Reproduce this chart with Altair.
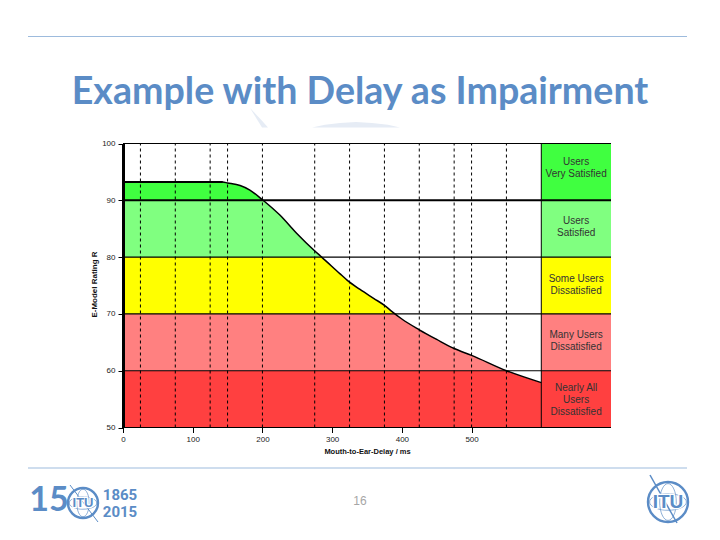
import altair as alt
import pandas as pd

# ---- data ----
curve_ms = [0, 143, 150, 168, 182, 200, 225, 249, 274, 285, 311, 321, 340, 360, 375, 385, 400, 425, 450, 475, 500, 550, 600]
curve_r = [93.2, 93.2, 93.05, 92.6, 91.8, 90.1, 87.4, 84.2, 81.2, 80, 77.1, 76.0, 74.3, 72.7, 71.5, 70.5, 69.1, 67.2, 65.5, 63.9, 62.7, 60, 57.9]
band_low = [90, 80, 70, 60, 50]
band_high = [100, 90, 80, 70, 60]
band_color = ["#40FF40", "#80FF80", "#FFFF00", "#FF8080", "#FF4040"]
dashed_ms = [25, 75, 125, 150, 200, 275, 325, 375, 425, 475, 500, 550]
grid_r = [100, 80, 70, 60, 50]
strong_r = [90]
x_ticks = [0, 100, 200, 300, 400, 500]
y_ticks = [50, 60, 70, 80, 90, 100]
panel_lines = ["Users", "Very Satisfied", "Users", "Satisfied", "Some Users", "Dissatisfied",
               "Many Users", "Dissatisfied", "Nearly All", "Users", "Dissatisfied"]
panel_r = [96.7, 94.6, 86.3, 84.2, 76.1, 74.0, 66.2, 64.1, 56.9, 54.8, 52.7]

BLUE = "#5B8CC6"
WATER = "#E6ECF5"
FONT = "Liberation Sans"

X = alt.Scale(domain=[0, 700], range=[115, 603], nice=False, zero=False)
Y = alt.Scale(domain=[50, 100], range=[419.5, 135.5], nice=False, zero=False)

curve = pd.DataFrame({"ms": curve_ms, "r": curve_r, "top": [100] * len(curve_ms)})
flat = curve[curve.ms <= 143]
bands = pd.DataFrame({"x0": [0] * 5, "x1": [700] * 5, "lo": band_low, "hi": band_high, "c": band_color})

xe = alt.X("x0:Q", scale=X,
           axis=alt.Axis(values=x_ticks, offset=-104.5, domain=False, grid=False, tickColor="#000", tickSize=5,
                         labelFont=FONT, labelFontSize=8, labelColor="#222", labelPadding=3, format="d",
                         labelFlush=False, labelOverlap=False, zindex=1,
                         title="Mouth-to-Ear-Delay / ms", titleFont=FONT, titleFontSize=7.5, titleFontWeight="bold",
                         titleColor="#111", titleX=359, titleY=20))
ye = alt.Y("lo:Q", scale=Y,
           axis=alt.Axis(values=y_ticks, offset=-115, domain=True, domainColor="#000", domainWidth=3, grid=False,
                         tickColor="#000", tickSize=5, labelFont=FONT, labelFontSize=8, labelColor="#222", labelPadding=3,
                         labelFlush=False, labelOverlap=False, zindex=1,
                         title="E-Model Rating R", titleFont=FONT, titleFontSize=8, titleFontWeight="bold",
                         titleColor="#111", titleX=-25, titleY=276))

layer_bands = alt.Chart(bands).mark_rect().encode(
    x=xe, x2="x1:Q", y=ye, y2="hi:Q", color=alt.Color("c:N", scale=None))
layer_white = alt.Chart(curve).mark_area(color="white", opacity=1, interpolate="monotone").encode(
    x=alt.X("ms:Q", scale=X), y=alt.Y("r:Q", scale=Y), y2="top:Q")
layer_dash = alt.Chart(pd.DataFrame({"ms": dashed_ms, "a": [50] * 12, "b": [100] * 12})).mark_rule(
    color="#000", strokeWidth=1, strokeDash=[3, 3]).encode(
    x=alt.X("ms:Q", scale=X), y=alt.Y("a:Q", scale=Y), y2="b:Q")
layer_grid = alt.Chart(pd.DataFrame({"r": grid_r, "a": [0] * 5, "b": [700] * 5})).mark_rule(
    color="#000", strokeWidth=1.1).encode(
    x=alt.X("a:Q", scale=X), x2="b:Q", y=alt.Y("r:Q", scale=Y))
layer_strong = alt.Chart(pd.DataFrame({"r": strong_r, "a": [0], "b": [700]})).mark_rule(
    color="#000", strokeWidth=2).encode(
    x=alt.X("a:Q", scale=X), x2="b:Q", y=alt.Y("r:Q", scale=Y))
layer_divider = alt.Chart(pd.DataFrame({"ms": [600], "a": [50], "b": [100]})).mark_rule(
    color="#000", strokeWidth=1).encode(
    x=alt.X("ms:Q", scale=X), y=alt.Y("a:Q", scale=Y), y2="b:Q")
layer_curve = alt.Chart(curve).mark_line(color="#000", strokeWidth=1.5, interpolate="monotone").encode(
    x=alt.X("ms:Q", scale=X), y=alt.Y("r:Q", scale=Y))
layer_flat = alt.Chart(flat).mark_line(color="#000", strokeWidth=2).encode(
    x=alt.X("ms:Q", scale=X), y=alt.Y("r:Q", scale=Y))
layer_panel = alt.Chart(pd.DataFrame({"t": panel_lines, "r": panel_r, "x": [650] * len(panel_r)})).mark_text(
    font=FONT, fontSize=10, color="#333", align="center", baseline="middle").encode(
    x=alt.X("x:Q", scale=X), y=alt.Y("r:Q", scale=Y), text="t:N")

one = alt.Data(values=[{"k": 0}])
M = 8  # page margin: decoration below is placed in page pixels


def txt(s, x, y, size, color=BLUE, weight="normal", font=FONT, align="center", **kw):
    return alt.Chart(one).mark_text(text=s, fontSize=size, color=color, fontWeight=weight, font=font,
                                    align=align, baseline="middle", **kw).encode(
        x=alt.value(x - M), y=alt.value(y - M))


def line(x1, y1, x2, y2, color=BLUE, w=1.0):
    return alt.Chart(one).mark_rule(color=color, strokeWidth=w).encode(
        x=alt.value(x1 - M), x2=alt.value(x2 - M), y=alt.value(y1 - M), y2=alt.value(y2 - M))


def ring(x, y, d, w=1.5, shape="circle", color=BLUE):
    return alt.Chart(one).mark_point(shape=shape, filled=False, color=color, strokeWidth=w, opacity=1).encode(
        x=alt.value(x - M), y=alt.value(y - M), size=alt.value(d * d))


def poly(xs, tops, bottoms, color=WATER):
    df = pd.DataFrame({"x": [v - M for v in xs], "y": [v - M for v in tops], "y2": [v - M for v in bottoms]})
    return alt.Chart(df).mark_area(color=color, opacity=1).encode(
        x=alt.X("x:Q", scale=None), y=alt.Y("y:Q", scale=None), y2="y2:Q")


MERID = "M0,-1A0.45,1 0 1 1 0,1A0.45,1 0 1 1 0,-1Z"
PARAL = "M-1,0A1,0.45 0 1 1 1,0A1,0.45 0 1 1 -1,0Z"


def globe(x, y, d, ts):
    return alt.layer(
        ring(x, y, d, 2.4),
        ring(x, y, d * 0.92, 0.7, MERID),
        ring(x, y, d * 0.92, 0.7, PARAL),
        txt("ITU", x, y, ts, color="white", weight="bold", stroke="white", strokeWidth=2.5),
        txt("ITU", x, y, ts, weight="bold"),
    )


decor_back = alt.layer(
    line(28, 36.5, 687, 36.5, "#9DBBDD", 1.2),
    line(28, 468, 687, 468, "#9DBBDD", 1.2),
    poly([250, 262, 268], [108, 120.7, 127.5], [108, 127.5, 127.5]),
    poly([312, 325, 340, 356, 372, 388, 400], [127.5, 124.8, 123, 122, 123, 124.8, 127.5], [127.5] * 7),
    txt("Example with Delay as Impairment", 360, 93, 37.6, weight="bold", font="Lato"),
    txt("16", 360, 501, 12, color="#A6A6A6"),
    txt("15", 49, 501, 34, weight="bold", font="Lato"),
    txt("1865", 120, 495, 15, font="Roboto", weight="bold"),
    txt("2015", 120, 512, 15, font="Roboto", weight="bold"),
    line(70, 485, 98, 522, w=1),
    globe(83, 503, 30, 13),
    line(650, 475, 677, 523, w=1.5),
    globe(668, 502, 40, 19),
)

chart = alt.layer(
    decor_back, layer_bands, layer_white, layer_dash, layer_grid, layer_strong,
    layer_divider, layer_curve, layer_flat, layer_panel,
).properties(
    width=704, height=524, padding=0,
    autosize=alt.AutoSizeParams(type="none"),
).configure_view(stroke=None)

chart.save("out.html", embed_options={"renderer": "svg", "actions": False})
